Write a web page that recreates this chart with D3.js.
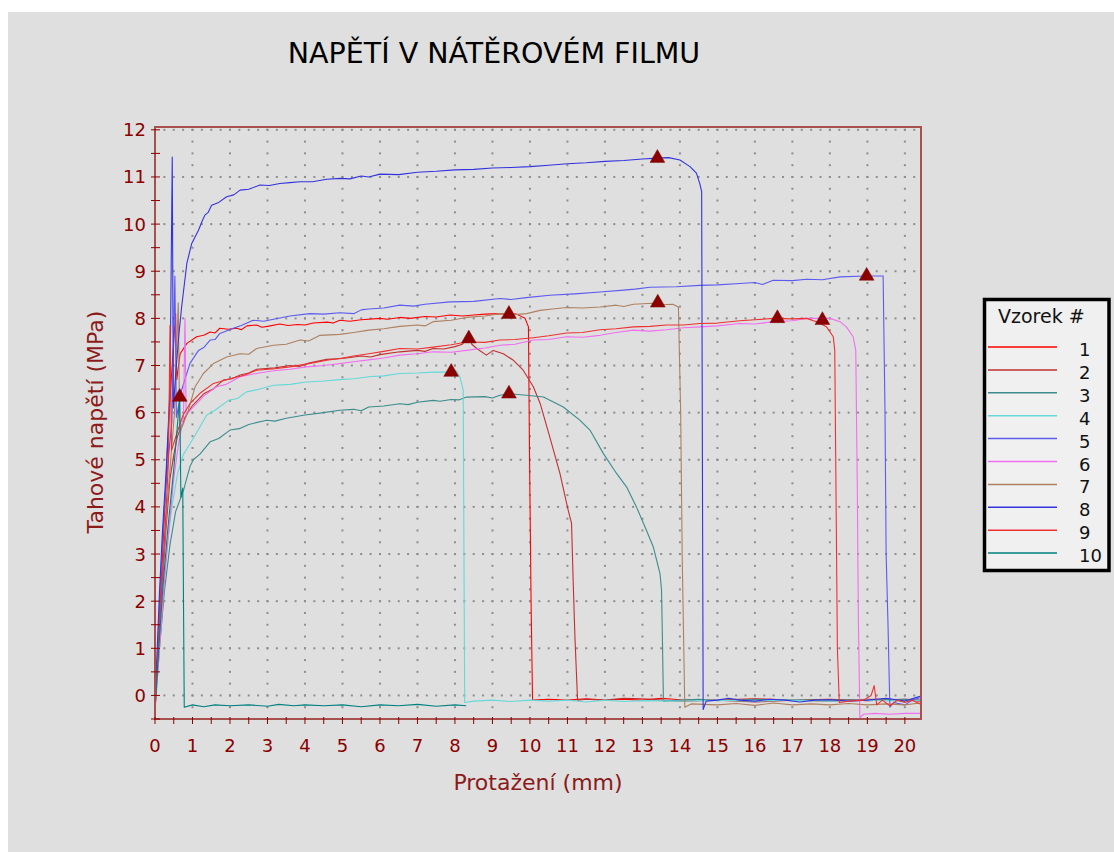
<!DOCTYPE html>
<html>
<head>
<meta charset="utf-8">
<script src="https://cdn.jsdelivr.net/npm/d3@7"></script>
<style>
  html, body { margin: 0; padding: 0; background: #ffffff; }
  svg { display: block; }
  text { font-family: "DejaVu Sans", Verdana, sans-serif; }
</style>
</head>
<body>
<svg id="chart" width="1114" height="852"></svg>
<script>
// ---- data: elongation (mm) vs tensile stress (MPa), one array per specimen ----
const vzorek1 = [[0,-0.3],[0.08,1.0],[0.16,2.3],[0.25,3.8],[0.33,5.2],[0.4,6.3],[0.55,8.1],[0.58,6.7],[0.67,7.25],[0.85,7.47],[1.11,7.61],[1.3,7.64],[1.47,7.71],[1.6,7.69],[1.73,7.79],[1.95,7.77],[2.18,7.79],[2.3,7.76],[2.45,7.84],[2.71,7.86],[2.85,7.81],[3.0,7.83],[3.33,7.88],[3.55,7.85],[3.8,7.87],[4.0,7.86],[4.22,7.9],[4.6,7.92],[4.75,7.9],[4.93,7.96],[5.2,7.94],[5.5,7.97],[6.0,8.0],[6.2,7.98],[6.53,8.02],[6.8,8.0],[7.2,8.04],[7.5,8.03],[7.87,8.07],[8.2,8.05],[8.5,8.07],[8.8,8.09],[9.2,8.1],[9.64,8.09],[9.87,8.0],[9.96,7.82],[9.99,5.0],[10.03,2.0],[10.07,-0.1],[10.5,-0.08],[11.0,-0.1],[11.5,-0.07],[12.0,-0.1],[12.5,-0.08],[13.0,-0.1],[13.5,-0.06],[14.0,-0.09],[15.0,-0.1],[16.0,-0.07],[17.0,-0.1],[18.0,-0.08],[19.0,-0.11],[20.0,-0.08],[20.4,-0.1]];
const vzorek2 = [[0,-0.3],[0.1,1.1],[0.2,2.4],[0.3,3.6],[0.4,4.6],[0.5,5.1],[0.6,5.5],[0.8,5.9],[1.0,6.15],[1.3,6.4],[1.55,6.5],[1.82,6.69],[2.05,6.72],[2.27,6.8],[2.5,6.84],[2.71,6.92],[3.2,6.95],[3.6,7.0],[3.85,6.98],[4.1,7.05],[4.58,7.13],[5.0,7.15],[5.5,7.2],[5.75,7.18],[6.0,7.23],[6.53,7.29],[7.0,7.32],[7.2,7.3],[7.42,7.36],[7.7,7.35],[8.0,7.4],[8.2,7.45],[8.3,7.57],[8.4,7.57],[8.45,7.45],[8.58,7.36],[8.84,7.22],[9.02,7.32],[9.29,7.25],[9.56,7.11],[9.82,6.9],[10.09,6.55],[10.27,6.2],[10.53,5.48],[10.8,4.71],[11.02,3.93],[11.11,3.65],[11.15,2.5],[11.2,1.24],[11.27,-0.1],[11.5,-0.08],[12.0,-0.1],[12.5,-0.06],[13.0,-0.07],[14.0,-0.12],[15.0,-0.1],[16.0,-0.14],[17.0,-0.1],[18.0,-0.12],[19.0,-0.08],[20.0,-0.1],[20.4,-0.12]];
const vzorek3 = [[0,-0.3],[0.12,1.0],[0.25,2.2],[0.4,3.2],[0.55,3.9],[0.76,4.35],[0.93,4.85],[1.02,5.0],[1.2,5.12],[1.47,5.38],[1.7,5.45],[2.0,5.63],[2.25,5.66],[2.5,5.75],[2.98,5.84],[3.2,5.82],[3.5,5.88],[4.0,5.95],[4.5,6.0],[4.93,6.05],[5.3,6.07],[5.5,6.04],[5.7,6.12],[6.1,6.14],[6.53,6.19],[6.75,6.17],[7.0,6.22],[7.42,6.26],[7.6,6.24],[7.9,6.28],[8.1,6.27],[8.31,6.33],[8.8,6.34],[9.0,6.31],[9.2,6.37],[9.44,6.4],[9.91,6.37],[10.36,6.33],[10.89,6.12],[11.33,5.84],[11.6,5.63],[11.96,5.13],[12.31,4.71],[12.58,4.42],[12.84,4.0],[13.11,3.5],[13.29,3.15],[13.47,2.58],[13.51,2.23],[13.54,0.89],[13.56,-0.12],[14.0,-0.1],[14.5,-0.08],[15.0,-0.11],[16.0,-0.08],[17.0,-0.1],[18.0,-0.09],[19.0,-0.1],[20.0,-0.08],[20.4,-0.1]];
const vzorek4 = [[0,-0.3],[0.1,0.9],[0.2,2.0],[0.3,3.0],[0.45,4.0],[0.6,4.7],[0.75,5.1],[1.02,5.45],[1.2,5.7],[1.38,5.95],[1.6,6.05],[1.96,6.26],[2.2,6.3],[2.44,6.44],[2.8,6.5],[3.16,6.58],[3.6,6.6],[4.04,6.65],[4.5,6.67],[4.93,6.7],[5.3,6.72],[5.7,6.76],[6.1,6.78],[6.53,6.83],[7.0,6.84],[7.42,6.86],[7.9,6.86],[8.04,6.89],[8.13,6.76],[8.22,6.48],[8.24,3.0],[8.26,-0.15],[8.5,-0.12],[9.0,-0.1],[9.5,-0.13],[10.0,-0.1],[10.5,-0.12],[11.0,-0.1],[11.5,-0.14],[12.0,-0.1],[12.5,-0.13],[13.0,-0.11],[14.0,-0.12],[15.0,-0.1],[16.0,-0.12],[17.0,-0.1],[18.0,-0.12],[19.0,-0.1],[20.0,-0.12],[20.4,-0.1]];
const vzorek5 = [[0,-0.3],[0.08,1.2],[0.16,2.6],[0.25,4.0],[0.35,5.0],[0.45,5.8],[0.53,8.9],[0.57,5.9],[0.71,6.48],[0.93,7.04],[1.16,7.32],[1.3,7.38],[1.47,7.54],[1.6,7.55],[1.73,7.68],[2.09,7.79],[2.3,7.85],[2.62,7.96],[2.9,7.94],[3.16,7.98],[3.6,8.05],[4.13,8.1],[4.5,8.09],[4.93,8.12],[5.3,8.1],[5.5,8.18],[5.7,8.2],[6.1,8.22],[6.53,8.28],[6.9,8.26],[7.2,8.3],[7.87,8.35],[8.5,8.36],[9.2,8.42],[9.5,8.4],[9.9,8.44],[10.53,8.49],[11.2,8.52],[11.87,8.56],[12.5,8.6],[12.8,8.62],[13.2,8.66],[13.9,8.67],[14.53,8.7],[15.0,8.71],[15.6,8.74],[16.0,8.76],[16.2,8.72],[16.49,8.81],[17.0,8.8],[17.38,8.83],[17.8,8.82],[18.27,8.88],[18.98,8.9],[19.42,8.9],[19.47,6.0],[19.5,3.0],[19.55,1.5],[19.6,-0.25],[19.7,-0.15],[20.0,-0.2],[20.2,-0.1],[20.4,-0.05]];
const vzorek6 = [[0,-0.35],[0.12,1.0],[0.25,2.4],[0.38,3.6],[0.5,4.6],[0.62,5.3],[0.76,5.9],[0.8,8.0],[0.83,5.95],[1.0,6.1],[1.3,6.35],[1.64,6.55],[1.9,6.6],[2.27,6.76],[2.7,6.83],[3.16,6.89],[3.6,6.92],[4.04,6.97],[4.5,7.0],[4.93,7.04],[5.3,7.08],[5.7,7.12],[6.1,7.16],[6.53,7.22],[7.0,7.25],[7.42,7.29],[7.9,7.28],[8.31,7.32],[8.8,7.37],[9.2,7.43],[9.6,7.45],[10.09,7.54],[10.5,7.55],[10.98,7.61],[11.4,7.6],[11.87,7.64],[12.3,7.7],[12.76,7.75],[13.2,7.73],[13.64,7.76],[14.1,7.8],[14.53,7.82],[15.0,7.84],[15.6,7.89],[16.0,7.88],[16.49,7.93],[17.0,7.95],[17.38,8.0],[18.0,8.0],[18.27,7.93],[18.44,7.82],[18.62,7.61],[18.69,7.32],[18.73,4.5],[18.76,1.6],[18.8,-0.47],[18.9,-0.4],[19.2,-0.38],[19.6,-0.4],[20.0,-0.38],[20.4,-0.38]];
const vzorek7 = [[0,-0.3],[0.1,1.1],[0.2,2.5],[0.3,3.8],[0.42,5.0],[0.52,6.0],[0.62,8.33],[0.66,5.6],[0.75,5.75],[0.89,6.05],[1.07,6.55],[1.29,6.83],[1.56,7.04],[1.91,7.18],[2.27,7.25],[2.5,7.24],[2.71,7.36],[3.16,7.43],[3.5,7.45],[3.87,7.54],[4.1,7.52],[4.4,7.64],[4.93,7.66],[5.3,7.7],[5.7,7.75],[6.1,7.78],[6.53,7.83],[7.0,7.86],[7.2,7.84],[7.42,7.93],[7.9,7.96],[8.31,8.02],[8.8,8.05],[9.2,8.1],[9.6,8.08],[9.91,8.1],[10.27,8.17],[10.6,8.2],[10.98,8.23],[11.4,8.22],[11.87,8.24],[12.3,8.28],[12.5,8.25],[12.76,8.3],[13.28,8.32],[13.5,8.29],[13.81,8.3],[13.96,8.24],[14.02,6.0],[14.06,3.0],[14.13,-0.25],[14.3,-0.18],[15.0,-0.2],[15.5,-0.17],[16.0,-0.21],[16.5,-0.16],[17.0,-0.2],[17.5,-0.18],[18.0,-0.2],[18.5,-0.17],[19.0,-0.2],[19.5,-0.18],[20.0,-0.2],[20.4,-0.16]];
const vzorek8 = [[0,-0.3],[0.06,1.0],[0.12,2.2],[0.2,3.5],[0.3,4.8],[0.4,6.5],[0.46,11.42],[0.49,6.1],[0.55,6.8],[0.63,7.6],[0.71,8.24],[0.85,9.17],[0.98,9.59],[1.16,9.87],[1.25,10.05],[1.33,10.19],[1.42,10.25],[1.51,10.4],[1.7,10.46],[1.91,10.58],[2.1,10.62],[2.27,10.72],[2.5,10.74],[2.8,10.83],[3.05,10.82],[3.33,10.86],[3.6,10.88],[3.87,10.9],[4.2,10.9],[4.58,10.95],[4.93,10.97],[5.2,10.96],[5.5,11.02],[5.7,11.0],[6.0,11.06],[6.5,11.05],[7.0,11.1],[7.5,11.12],[8.0,11.15],[8.5,11.16],[9.0,11.19],[9.5,11.2],[10.0,11.22],[10.5,11.25],[11.0,11.28],[11.5,11.3],[12.0,11.33],[12.5,11.35],[13.0,11.38],[13.4,11.4],[13.7,11.41],[14.0,11.36],[14.27,11.22],[14.44,11.08],[14.53,10.86],[14.58,10.69],[14.6,5.0],[14.62,-0.3],[14.7,-0.12],[15.0,-0.1],[15.3,-0.06],[15.6,-0.1],[16.0,-0.12],[16.4,-0.08],[16.8,-0.1],[17.2,-0.14],[17.6,-0.1],[18.0,-0.09],[18.5,-0.12],[19.0,-0.1],[19.5,-0.06],[20.0,-0.12],[20.4,-0.02]];
const vzorek9 = [[0,-0.3],[0.1,1.2],[0.2,2.6],[0.3,4.0],[0.36,5.0],[0.4,7.85],[0.44,5.2],[0.6,5.6],[0.75,5.95],[0.93,6.19],[1.2,6.41],[1.56,6.62],[2.0,6.72],[2.4,6.8],[2.71,6.9],[3.2,6.93],[3.6,6.97],[4.1,7.04],[4.58,7.11],[4.93,7.15],[5.3,7.2],[5.7,7.25],[6.1,7.3],[6.53,7.36],[7.0,7.35],[7.42,7.39],[7.9,7.44],[8.31,7.5],[8.8,7.49],[9.2,7.54],[9.6,7.55],[10.09,7.59],[10.5,7.63],[10.98,7.69],[11.4,7.7],[11.87,7.76],[12.3,7.78],[12.76,7.82],[13.2,7.83],[13.64,7.86],[14.1,7.86],[14.53,7.89],[15.0,7.9],[15.6,7.95],[16.0,7.97],[16.49,8.0],[17.0,7.99],[17.38,8.0],[17.64,7.93],[17.91,7.82],[18.09,7.61],[18.13,7.32],[18.2,1.0],[18.25,-0.15],[18.5,-0.12],[18.9,-0.1],[19.1,0.0],[19.18,0.21],[19.25,-0.2],[19.4,-0.1],[19.6,-0.22],[19.8,-0.1],[20.0,-0.15],[20.2,-0.1],[20.4,-0.18]];
const vzorek10 = [[0,-0.3],[0.1,1.0],[0.22,2.4],[0.35,3.6],[0.5,4.8],[0.66,6.33],[0.69,4.2],[0.74,4.4],[0.76,2.0],[0.78,-0.25],[1.0,-0.2],[1.3,-0.24],[1.6,-0.2],[2.0,-0.22],[2.5,-0.2],[3.0,-0.23],[3.3,-0.19],[3.7,-0.22],[4.0,-0.2],[4.5,-0.22],[5.0,-0.2],[5.5,-0.24],[6.0,-0.2],[6.5,-0.22],[7.0,-0.19],[7.5,-0.23],[8.0,-0.2],[8.3,-0.22]];

const series = [vzorek1, vzorek2, vzorek3, vzorek4, vzorek5, vzorek6, vzorek7, vzorek8, vzorek9, vzorek10];
const seriesLabels = ["1", "2", "3", "4", "5", "6", "7", "8", "9", "10"];
const seriesColors = ["#ff0000", "#c03030", "#3c8c8c", "#66d8d8", "#5b5bf0", "#f06ef0", "#ad8060", "#3333dd", "#f03030", "#008080"];

// maximum-stress marker of each specimen
const peakX = [9.44, 8.37, 9.44, 7.9, 18.98, 17.8, 13.41, 13.4, 16.6, 0.66];
const peakY = [8.09, 7.57, 6.4, 6.86, 8.9, 7.96, 8.33, 11.4, 8.0, 6.33];

const xTickValues = d3.range(0, 21, 1);
const yTickValues = d3.range(0, 13, 1);

const chartTitle = "NAPĚTÍ V NÁTĚROVÉM FILMU";
const xTitle = "Protažení (mm)";
const yTitle = "Tahové napětí (MPa)";
const legendTitle = "Vzorek #";

// ---- layout ----
const svg = d3.select("#chart");
const plot = { left: 155, right: 921, top: 127, bottom: 719 };
const x = d3.scaleLinear().domain([0, 20.43]).range([plot.left, plot.right]);
const y = d3.scaleLinear().domain([-0.5, 12.06]).range([plot.bottom, plot.top]);
const axisColor = "#a65050";
const textRed = "#8b0000";

svg.append("rect").attr("x", 8).attr("y", 12).attr("width", 1106).attr("height", 840).attr("fill", "#dfdfdf");

// title
svg.append("text").attr("x", 494).attr("y", 63).attr("text-anchor", "middle")
  .attr("font-size", 28.5).attr("fill", "#000").text(chartTitle);

// dotted grid
const grid = svg.append("g").attr("fill", "#8e8e8e");
const rowDots = [];
yTickValues.forEach(v => d3.range(0, 20.3, 0.25).forEach(u => rowDots.push([u, v])));
const colDots = [];
d3.range(1, 21, 1).forEach(u => d3.range(-0.5, 12.01, 0.25).forEach(v => colDots.push([u, v])));
grid.selectAll("rect.dot").data(rowDots.concat(colDots)).join("rect")
  .attr("class", "dot")
  .attr("x", d => x(d[0]) - 1).attr("y", d => y(d[1]) - 1)
  .attr("width", 2).attr("height", 2);

// curves
svg.append("clipPath").attr("id", "plotClip").append("rect")
  .attr("x", plot.left).attr("y", plot.top)
  .attr("width", plot.right - plot.left).attr("height", plot.bottom - plot.top);

const line = d3.line().x(d => x(d[0])).y(d => y(d[1]));
svg.append("g").attr("clip-path", "url(#plotClip)")
  .selectAll("path").data(series).join("path")
  .attr("d", line)
  .attr("fill", "none")
  .attr("stroke", (d, i) => seriesColors[i])
  .attr("stroke-width", 1.1)
  .attr("stroke-linejoin", "round");

// peak markers
const tri = d3.symbol().type(d3.symbolTriangle).size(95);
svg.append("g").selectAll("path").data(peakX).join("path")
  .attr("transform", (d, i) => `translate(${x(d)},${y(peakY[i])})`)
  .attr("d", tri)
  .attr("fill", "#8b0000")
  .attr("stroke", "#7a0a0a").attr("stroke-width", 0.5);

// frame
svg.append("rect").attr("x", plot.left).attr("y", plot.top)
  .attr("width", plot.right - plot.left).attr("height", plot.bottom - plot.top)
  .attr("fill", "none").attr("stroke", axisColor).attr("stroke-width", 2);

// y axis ticks + labels
const yAxis = svg.append("g");
yAxis.selectAll("line").data(d3.range(-0.5, 12.01, 0.5)).join("line")
  .attr("x1", plot.left - 4).attr("x2", plot.left + 5)
  .attr("y1", d => y(d)).attr("y2", d => y(d))
  .attr("stroke", textRed).attr("stroke-width", 1);
yAxis.selectAll("text").data(yTickValues).join("text")
  .attr("x", 146).attr("y", d => y(d)).attr("dy", "0.36em")
  .attr("text-anchor", "end").attr("font-size", 18).attr("fill", textRed)
  .text(d => d);

// x axis ticks + labels
const xAxis = svg.append("g");
xAxis.selectAll("line").data(d3.range(0, 20.01, 0.5)).join("line")
  .attr("x1", d => x(d)).attr("x2", d => x(d))
  .attr("y1", plot.bottom - 2).attr("y2", plot.bottom + 5)
  .attr("stroke", textRed).attr("stroke-width", 1);
xAxis.selectAll("text").data(xTickValues).join("text")
  .attr("x", d => x(d)).attr("y", 752)
  .attr("text-anchor", "middle").attr("font-size", 18).attr("fill", textRed)
  .text(d => d);

// axis titles
svg.append("text").attr("x", 538).attr("y", 790).attr("text-anchor", "middle")
  .attr("font-size", 22).attr("fill", "#8b1a1a").text(xTitle);
svg.append("text").attr("transform", "translate(103,422) rotate(-90)")
  .attr("text-anchor", "middle").attr("font-size", 22).attr("fill", "#8b1a1a").text(yTitle);

// legend
const lg = svg.append("g");
lg.append("rect").attr("x", 984.5).attr("y", 299.5).attr("width", 124.5).attr("height", 271)
  .attr("fill", "#f0f0f0").attr("stroke", "#000").attr("stroke-width", 3.5);
lg.append("text").attr("x", 998).attr("y", 323).attr("font-size", 19).attr("fill", "#111").text(legendTitle);
const rows = lg.selectAll("g.row").data(seriesLabels).join("g").attr("class", "row")
  .attr("transform", (d, i) => `translate(0,${347 + i * 22.9})`);
rows.append("line").attr("x1", 988).attr("x2", 1057).attr("y1", 0).attr("y2", 0)
  .attr("stroke", (d, i) => seriesColors[i]).attr("stroke-width", 1.5);
rows.append("text").attr("x", 1079).attr("y", 9).attr("font-size", 18).attr("fill", "#111").text(d => d);
</script>
</body>
</html>
